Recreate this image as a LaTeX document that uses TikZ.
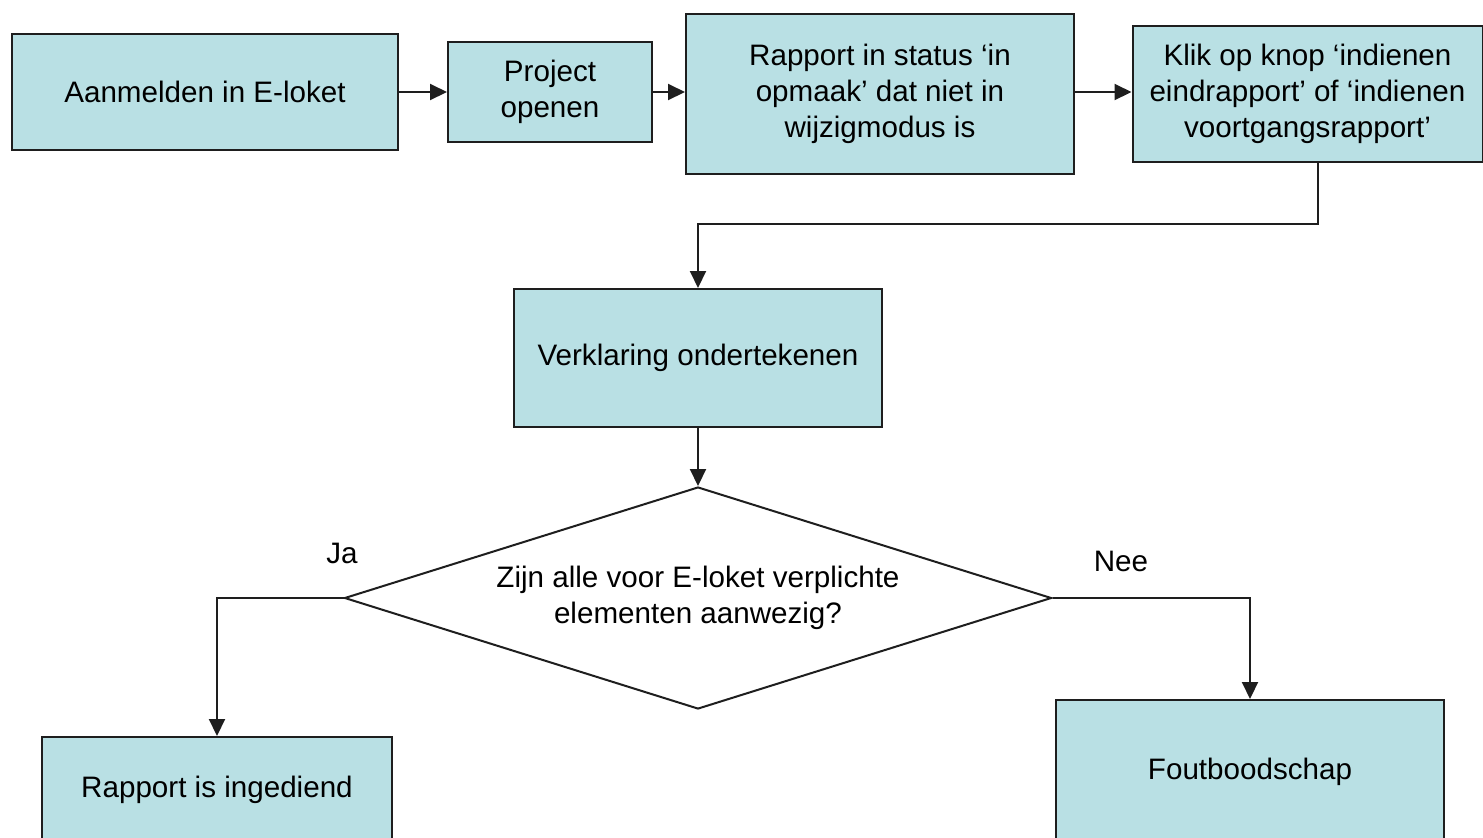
\documentclass[tikz,border=0pt]{standalone}
\usepackage{fontspec}
\setmainfont{Liberation Sans}
\usetikzlibrary{shapes.geometric,arrows.meta}
\definecolor{boxfill}{RGB}{185,224,228}
\definecolor{edge}{RGB}{30,30,30}
\tikzset{
  box/.style={draw=edge, line width=1pt, fill=boxfill, rectangle, inner sep=0pt, align=center,
    font=\fontsize{14.8pt}{18pt}\selectfont},
  arr/.style={draw=edge, line width=1pt, -{Triangle[length=8.5pt,width=8pt]}},
  lbl/.style={font=\fontsize{14.8pt}{18pt}\selectfont, inner sep=0pt},
}
\begin{document}
\begin{tikzpicture}[x=0.5pt,y=-0.5pt]
\useasboundingbox (0,0) rectangle (1483,837);
\clip (0,0) rectangle (1483,837);
\node[box, minimum width=193pt, minimum height=58pt] (A) at (205,92) {Aanmelden in E-loket};
\node[box, minimum width=102pt, minimum height=50pt] (B) at (550,92) {Project\\openen};
\node[box, minimum width=194pt, minimum height=80pt] (C) at (880,93.5) {Rapport in status ‘in\\opmaak’ dat niet in\\wijzigmodus is};
\node[box, minimum width=175pt, minimum height=68pt] (D) at (1307.5,93.5) {Klik op knop ‘indienen\\eindrapport’ of ‘indienen\\voortgangsrapport’};
\node[box, minimum width=184pt, minimum height=69pt] (E) at (698,358) {Verklaring ondertekenen};
\node[diamond, draw=edge, line width=1pt, fill=white, aspect=3.18, minimum width=353.5pt, minimum height=111pt, inner sep=0pt, align=center,
  font=\fontsize{14.8pt}{18pt}\selectfont] (Q) at (698,598) {Zijn alle voor E-loket verplichte\\elementen aanwezig?};
\node[box, minimum width=175pt, minimum height=53pt] (F) at (217,790) {Rapport is ingediend};
\node[box, minimum width=194pt, minimum height=72pt] (G) at (1250,772) {Foutboodschap};
\node[lbl] (ja) at (342,553) {Ja};
\node[lbl] (nee) at (1121,561) {Nee};
\coordinate (m) at (698,224);
\draw[arr] (A.east) -- (B.west);
\draw[arr] (B.east) -- (C.west |- B.east);
\draw[arr] (C.east |- B.east) -- (D.west |- B.east);
\draw[arr] ([xshift=5pt]D.south) |- (m) -- (E.north);
\draw[arr] (E.south) -- (Q.north);
\draw[arr] (Q.west) -| (F.north);
\draw[arr] (Q.east) -| (G.north);
\end{tikzpicture}
\end{document}
